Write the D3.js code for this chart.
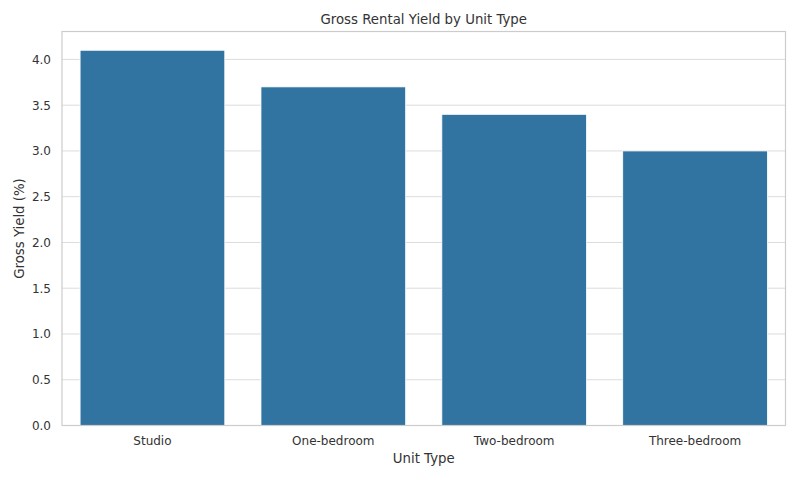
<!DOCTYPE html>
<html>
<head>
<meta charset="utf-8">
<script src="https://cdn.jsdelivr.net/npm/d3@7"></script>
<style>
  body { margin: 0; background: #fff; }
  text { font-family: "DejaVu Sans", sans-serif; fill: #333333; }
</style>
</head>
<body>
<div id="chart"></div>
<script>
// data
const unitTypes = ['Studio', 'One-bedroom', 'Two-bedroom', 'Three-bedroom'];
const grossYield = [4.1, 3.7, 3.4, 3.0];
const yTicks = [0, 0.5, 1.0, 1.5, 2.0, 2.5, 3.0, 3.5, 4.0];

const w = 800;
const h = 480;
const margin = {top: 31.5, right: 14.5, bottom: 54.5, left: 62};

const svg = d3.select('#chart')
    .append('svg')
    .attr('width', w)
    .attr('height', h);

const xScale = d3.scaleBand()
    .domain(unitTypes)
    .range([margin.left, w - margin.right])
    .paddingInner(0.2)
    .paddingOuter(0.1);

// matplotlib-style 5% headroom above the tallest bar
const yScale = d3.scaleLinear()
    .domain([0, d3.max(grossYield) * 1.05])
    .range([h - margin.bottom, margin.top]);

// horizontal grid
svg.append('g')
    .selectAll('line')
    .data(yTicks)
    .enter()
    .append('line')
    .attr('x1', margin.left)
    .attr('x2', w - margin.right)
    .attr('y1', d => yScale(d))
    .attr('y2', d => yScale(d))
    .attr('stroke', '#dcdcdc')
    .attr('stroke-width', 1);

// bars
svg.selectAll('rect.bar')
    .data(unitTypes)
    .enter()
    .append('rect')
    .attr('class', 'bar')
    .attr('x', d => xScale(d))
    .attr('y', (d, i) => yScale(grossYield[i]))
    .attr('width', xScale.bandwidth())
    .attr('height', (d, i) => yScale(0) - yScale(grossYield[i]))
    .attr('fill', '#3274a1')
    .attr('stroke', '#ffffff')
    .attr('stroke-width', 0.8);

// frame
svg.append('rect')
    .attr('x', margin.left)
    .attr('y', margin.top)
    .attr('width', w - margin.left - margin.right)
    .attr('height', h - margin.top - margin.bottom)
    .attr('fill', 'none')
    .attr('stroke', '#cccccc')
    .attr('stroke-width', 1.2);

const xAxis = d3.axisBottom(xScale).tickSize(0).tickPadding(11);
const gx = svg.append('g')
    .attr('id', 'x-axis')
    .attr('transform', 'translate(0,' + (h - margin.bottom) + ')')
    .call(xAxis);
gx.select('.domain').remove();
gx.selectAll('text').style('font-size', '12px').attr('fill', '#333333');

const yAxis = d3.axisLeft(yScale)
    .tickValues(yTicks)
    .tickFormat(d3.format('.1f'))
    .tickSize(0)
    .tickPadding(11);
const gy = svg.append('g')
    .attr('id', 'y-axis')
    .attr('transform', 'translate(' + margin.left + ',0)')
    .call(yAxis);
gy.select('.domain').remove();
gy.selectAll('text').style('font-size', '12px').attr('fill', '#333333');

// title and axis labels
svg.append('text')
    .attr('x', (margin.left + w - margin.right) / 2)
    .attr('y', 23.5)
    .attr('text-anchor', 'middle')
    .style('font-size', '13.3px')
    .text('Gross Rental Yield by Unit Type');

svg.append('text')
    .attr('x', (margin.left + w - margin.right) / 2)
    .attr('y', 463)
    .attr('text-anchor', 'middle')
    .style('font-size', '13.3px')
    .text('Unit Type');

svg.append('text')
    .attr('transform', 'translate(24,' + ((margin.top + h - margin.bottom) / 2) + ') rotate(-90)')
    .attr('text-anchor', 'middle')
    .style('font-size', '13.3px')
    .text('Gross Yield (%)');
</script>
</body>
</html>
